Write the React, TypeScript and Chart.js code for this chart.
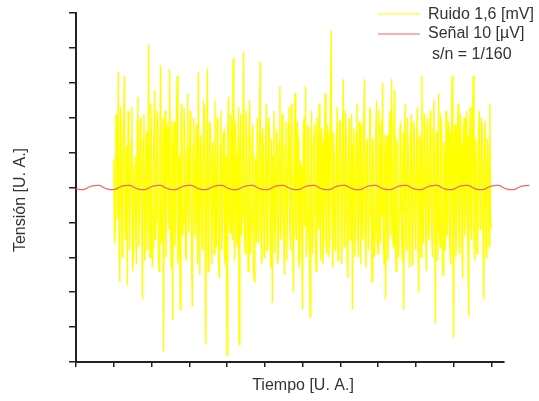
import { useEffect, useRef } from "react";
import { Chart, registerables } from "chart.js";

Chart.register(...registerables);

// ---- data ----
const xTickValues = [0, 1, 2, 3, 4, 5, 6, 7, 8, 9, 10, 11];
const yTickValues = [-5, -4, -3, -2, -1, 0, 1, 2, 3, 4, 5];
const xMin = 0;
const xMax = 12.05;
const xAxisEnd = 11.35;
const yMin = -5;
const yMax = 5;

const noiseStart = 1;
const noiseStep = 0.02;
const noiseValues = [
  0.8, -1.6, -1.2, 2.1, 1.9, -0.9, 3.3, -1.4, -2.7, 2.3,
  1.4, -2.0, -0.6, 1.7, 3.2, -1.1, -1.5, 1.2, -2.8, 2.2,
  1.7, -1.8, -0.4, 1.3, 2.3, -2.4, -1.9, 0.6, 0.9, -1.3,
  -2.2, 1.9, 2.6, -1.7, -0.8, 2.0, 1.5, -0.7, -3.2, 1.4,
  2.1, -2.1, -1.3, 1.6, 0.6, -1.8, 4.1, -0.5, -2.0, 2.4,
  1.2, -2.3, -1.7, 1.1, 2.8, -1.5, -0.9, 2.2, 1.8, -1.9,
  -2.4, 1.3, 3.5, -1.6, -1.1, 2.0, -4.7, 1.5, 2.2, -2.0,
  -0.5, 1.8, 1.6, -1.2, 3.4, -0.8, -2.3, 1.9, -3.8, 1.0,
  1.9, -1.7, -0.7, 2.1, 3.2, -2.2, -1.6, 0.9, -3.5, 1.6,
  2.4, -1.4, -1.0, 2.3, 1.3, -1.9, -2.1, 1.1, 2.7, -1.3,
  -0.6, 2.2, 1.5, -2.0, -3.4, 1.2, 2.0, -0.9, -1.4, 1.8,
  0.8, -2.2, 3.3, -1.0, -2.5, 1.5, 1.1, -1.6, -1.8, 2.4,
  2.3, -1.1, -4.5, 1.4, 3.4, -2.4, -1.2, 1.9, 1.7, -0.8,
  -2.2, 1.3, 0.5, -1.9, 2.5, -1.2, -1.7, 2.0, 1.0, -2.3,
  -2.6, 1.2, 2.2, -1.8, -0.9, 1.5, 1.6, -2.1, -2.0, 0.9,
  -4.8, 1.7, 2.6, -0.7, -1.3, 2.1, 1.4, -1.5, 3.7, -1.0,
  -2.1, 1.9, 0.9, -1.7, -1.5, 2.3, -4.5, 1.0, 2.1, -1.4,
  -0.8, 1.6, 3.9, -1.2, -1.9, 2.2, 1.3, -0.6, -2.4, 1.5,
  2.5, -1.9, -1.1, 1.4, 1.8, -2.3, -2.7, 0.8, 0.7, -1.6,
  2.0, -1.0, -1.6, 2.2, 3.6, -1.3, -2.2, 1.7, 1.2, -2.0,
  -1.4, 1.1, 2.4, -1.8, -0.6, 2.0, 1.7, -1.2, -2.3, 1.4,
  -3.3, 0.9, 2.2, -1.9, -1.0, 1.6, 1.5, -2.2, -2.0, 1.3,
  2.9, -1.5, -1.2, 2.1, 0.8, -1.4, -2.5, 1.2, 1.9, -2.1,
  -0.7, 1.8, 2.3, -1.0, -1.8, 2.4, 1.1, -1.6, -3.0, 1.0,
  2.7, -1.3, -1.5, 1.9, 1.4, -2.2, -2.1, 0.7, 0.6, -1.7,
  -3.5, 1.5, 2.0, -1.1, 2.9, -2.0, -1.3, 1.8, 1.6, -1.4,
  -3.7, 1.2, 2.2, -1.9, -0.8, 1.4, 1.8, -1.5, -2.4, 2.0,
  1.0, -1.2, 2.4, -0.9, -2.1, 1.7, 1.3, -2.2, -1.6, 1.1,
  2.7, -1.4, -1.9, 1.8, 1.5, -2.0, -1.1, 2.3, 4.5, -1.2,
  -2.3, 1.6, 0.9, -1.8, -1.7, 1.3, 2.3, -2.1, -0.5, 1.9,
  1.9, -1.0, -2.2, 1.5, 3.1, -1.7, -1.4, 2.2, 1.2, -1.9,
  -2.6, 1.1, 2.0, -1.5, -0.9, 2.1, -3.5, 1.2, 1.7, -2.0,
  -1.2, 1.6, 2.4, -1.3, -2.0, 1.9, 0.7, -2.2, 1.8, -0.9,
  -1.5, 2.0, 3.1, -1.4, -2.3, 1.2, 1.4, -1.8, -0.8, 2.3,
  2.1, -1.1, -2.7, 1.4, 1.0, -2.0, -1.3, 1.7, 2.5, -1.5,
  -1.9, 2.2, 0.6, -1.6, 1.9, -0.8, 3.0, -1.3, -2.2, 1.5,
  -3.2, 1.0, 1.5, -2.1, -1.0, 1.8, 2.2, -1.4, 3.1, -0.9,
  -1.7, 2.0, 2.8, -1.6, -2.4, 1.3, 1.2, -2.0, -0.7, 1.7,
  1.8, -1.2, -2.1, 1.6, -3.5, 1.1, 2.4, -1.8, -1.3, 2.0,
  1.0, -1.5, -2.3, 1.4, 2.1, -2.2, -0.9, 1.9, 1.6, -1.1,
  -1.8, 1.3, 2.3, -1.7, -3.0, 1.5, 1.3, -2.0, 3.2, -1.0,
  -1.6, 2.1, 0.8, -1.3, -2.4, 1.8, 2.0, -1.5, -1.1, 2.2,
  1.5, -1.4, -2.0, 1.7, 2.5, -1.2, -3.9, 1.6, 1.1, -2.1,
  2.7, -1.0, -1.7, 2.0, 1.9, -1.6, -2.5, 1.3, 0.7, -1.8,
  2.2, -1.2, -1.4, 1.9, 1.6, -1.7, -2.2, 1.1, 3.2, -1.5,
  -4.3, 1.4, 1.8, -2.0, -1.0, 1.6, 2.4, -1.3, -1.9, 2.1,
  1.2, -1.7, -2.6, 1.5, 2.0, -1.4, -0.8, 2.2, 1.5, -1.9,
  -3.7, 1.2, 2.3, -1.1, -1.5, 1.8, 3.2, -1.6, -2.1, 1.4,
  1.0, -1.9, -1.8, 1.6, 2.2, -1.2, -0.7, 2.0, 1.7, -1.5,
  -3.2, 1.1, 1.9, -2.0, -1.3, 1.4, 0.8, -1.7, 2.4, -1.2,
  -1.0,
];

const signalStart = 0;
const signalStep = 0.2035;
const signalValues = [
  -0.038, -0.059, 0.038, 0.059, -0.038, -0.059, 0.038, 0.059,
  -0.038, -0.059, 0.038, 0.059, -0.038, -0.059, 0.038, 0.059,
  -0.038, -0.059, 0.038, 0.059, -0.038, -0.059, 0.038, 0.059,
  -0.038, -0.059, 0.038, 0.059, -0.038, -0.059, 0.038, 0.059,
  -0.038, -0.059, 0.038, 0.059, -0.038, -0.059, 0.038, 0.059,
  -0.038, -0.059, 0.038, 0.059, -0.038, -0.059, 0.038, 0.059,
  -0.038, -0.059, 0.038, 0.059, -0.038, -0.059, 0.038, 0.059,
  -0.038, -0.059, 0.038, 0.059,
];

const noiseLabel = "Ruido 1,6 [mV]";
const signalLabel = "Señal 10 [µV]";
const ratioLabel = "s/n = 1/160";
const xTitle = "Tiempo [U. A.]";
const yTitle = "Tensión [U. A.]";

const noiseColor = "#ffff00";
const signalColor = "#f06868";
const axisColor = "#222222";
const textColor = "#333333";
const fontFamily = "'Liberation Sans', Arial, sans-serif";

const textPlugin = {
  id: "customText",
  afterDraw(chart: any) {
    const ctx = chart.ctx as CanvasRenderingContext2D;
    const xScale = chart.scales.x;
    const area = chart.chartArea;
    ctx.save();

    // x axis line (ends before the plotted range)
    ctx.strokeStyle = axisColor;
    ctx.lineWidth = 2;
    ctx.beginPath();
    ctx.moveTo(area.left - 1, area.bottom);
    ctx.lineTo(xScale.getPixelForValue(xAxisEnd), area.bottom);
    ctx.stroke();

    ctx.fillStyle = textColor;
    ctx.font = `16px ${fontFamily}`;
    ctx.textBaseline = "middle";

    // x title
    ctx.textAlign = "center";
    ctx.fillText(xTitle, 303, 386);

    // y title
    ctx.save();
    ctx.translate(21, 200);
    ctx.rotate(-Math.PI / 2);
    ctx.fillText(yTitle, 0, 0);
    ctx.restore();

    // legend
    ctx.textAlign = "left";
    ctx.lineWidth = 1.2;
    ctx.strokeStyle = noiseColor;
    ctx.beginPath();
    ctx.moveTo(378, 14);
    ctx.lineTo(420, 14);
    ctx.stroke();
    ctx.fillText(noiseLabel, 428, 15);

    ctx.strokeStyle = signalColor;
    ctx.beginPath();
    ctx.moveTo(378, 34);
    ctx.lineTo(420, 34);
    ctx.stroke();
    ctx.fillText(signalLabel, 428, 34);

    ctx.fillText(ratioLabel, 432, 55);
    ctx.restore();
  },
};

export default function App() {
  const canvasRef = useRef<HTMLCanvasElement | null>(null);

  useEffect(() => {
    document.body.style.margin = "0";
    const canvas = canvasRef.current;
    if (!canvas) return;

    const noiseData = noiseValues.map((v, i) => ({ x: noiseStart + i * noiseStep, y: v }));
    const signalData = signalValues.map((v, i) => ({ x: signalStart + i * signalStep, y: v }));

    const chart = new Chart(canvas, {
      type: "line",
      data: {
        datasets: [
          {
            label: signalLabel,
            data: signalData,
            borderColor: signalColor,
            borderWidth: 1.2,
            pointRadius: 0,
            tension: 0.4,
          },
          {
            label: noiseLabel,
            data: noiseData,
            borderColor: noiseColor,
            borderWidth: 1.4,
            pointRadius: 0,
            tension: 0,
          },
        ],
      },
      options: {
        animation: false,
        responsive: false,
        maintainAspectRatio: false,
        layout: { padding: { left: 69, right: 8, top: 13, bottom: 34 } },
        plugins: {
          legend: { display: false },
          tooltip: { enabled: false },
        },
        scales: {
          x: {
            type: "linear",
            min: xMin,
            max: xMax,
            afterBuildTicks: (scale: any) => {
              scale.ticks = xTickValues.map((v) => ({ value: v }));
            },
            ticks: { display: false },
            grid: {
              display: true,
              drawOnChartArea: false,
              drawTicks: true,
              tickLength: 5,
              color: axisColor,
              lineWidth: 1.5,
            },
            border: { display: false },
          },
          y: {
            type: "linear",
            min: yMin,
            max: yMax,
            afterBuildTicks: (scale: any) => {
              scale.ticks = yTickValues.map((v) => ({ value: v }));
            },
            ticks: { display: false },
            grid: {
              display: true,
              drawOnChartArea: false,
              drawTicks: true,
              tickLength: 7,
              color: axisColor,
              lineWidth: 1.5,
            },
            border: { display: true, color: axisColor, width: 2 },
          },
        },
      },
      plugins: [textPlugin],
    });

    return () => chart.destroy();
  }, []);

  return <canvas ref={canvasRef} width={539} height={401} style={{ display: "block" }} />;
}
